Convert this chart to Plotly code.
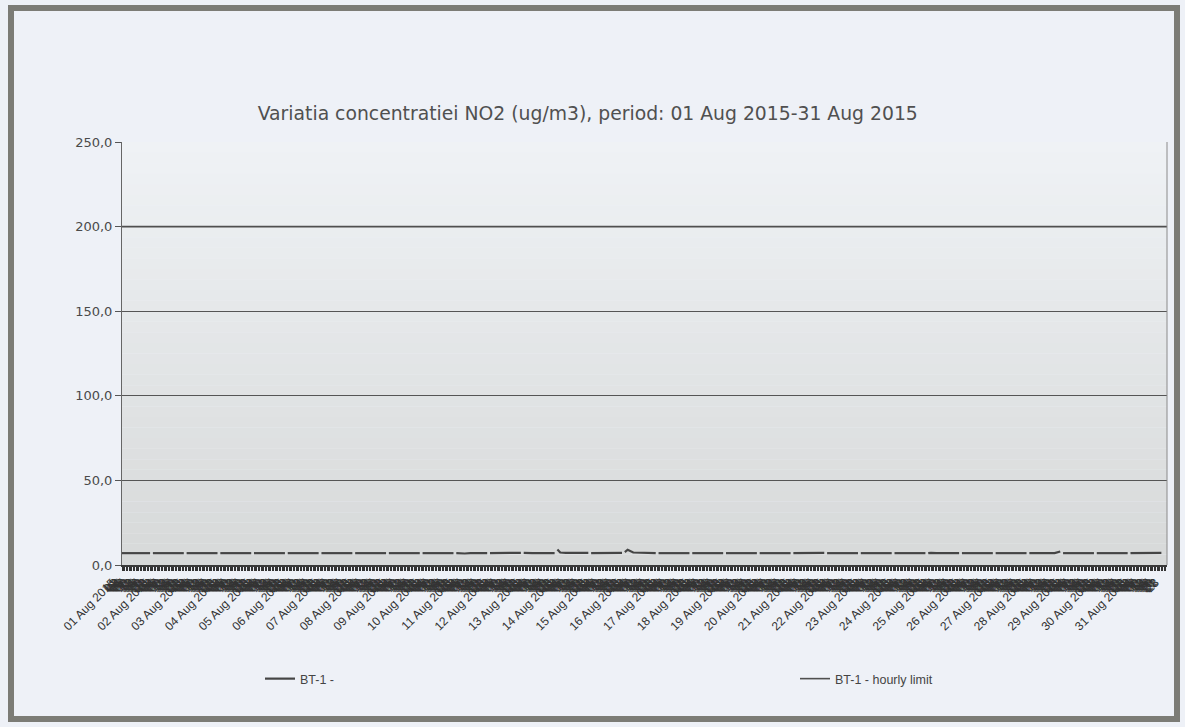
import datetime as dt
import plotly.graph_objects as go

# ---------------- data ----------------
days = list(range(1, 32))                       # August 2015
sample_hours = [0, 4, 8, 12, 16, 20, 22]         # hours
gap_hour = 21                                    # small daily break in the line
no2_by_day = [
    [7.0, 7.0, 7.0, 7.0, 7.0, 7.0, 7.0],   # 01
    [7.0, 7.0, 7.0, 7.0, 7.0, 7.0, 7.0],   # 02
    [7.0, 7.0, 7.0, 7.0, 7.0, 7.0, 7.0],   # 03
    [7.0, 7.0, 7.0, 7.0, 7.0, 7.0, 7.0],   # 04
    [7.0, 7.0, 7.0, 7.0, 7.0, 7.0, 7.0],   # 05
    [7.0, 7.0, 7.0, 7.0, 7.0, 7.0, 7.0],   # 06
    [7.0, 7.0, 7.0, 7.0, 7.0, 7.0, 7.0],   # 07
    [7.0, 7.0, 7.0, 7.0, 7.0, 7.0, 7.0],   # 08
    [7.0, 7.0, 7.0, 7.0, 7.0, 7.0, 7.0],   # 09
    [7.0, 7.0, 7.0, 7.0, 7.0, 7.0, 7.0],   # 10
    [6.8, 6.8, 7.0, 7.0, 7.0, 7.0, 7.0],   # 11
    [7.0, 7.0, 7.0, 7.0, 7.0, 7.2, 7.2],   # 12
    [7.0, 7.0, 7.0, 7.0, 7.0, 7.0, 9.2],   # 13
    [7.4, 7.2, 7.2, 7.2, 7.2, 7.2, 7.0],   # 14
    [7.0, 7.0, 7.0, 7.0, 7.0, 7.2, 7.6],   # 15
    [9.0, 7.4, 7.2, 7.2, 7.2, 7.0, 7.0],   # 16
    [7.0, 7.0, 7.0, 7.0, 7.0, 7.0, 7.0],   # 17
    [7.0, 7.0, 7.0, 7.0, 7.0, 7.0, 7.0],   # 18
    [7.0, 7.0, 7.0, 7.0, 7.0, 7.0, 7.0],   # 19
    [7.0, 7.0, 7.0, 7.0, 7.0, 7.0, 7.0],   # 20
    [7.0, 7.0, 7.0, 7.0, 7.2, 7.2, 7.0],   # 21
    [7.0, 7.0, 7.0, 7.0, 7.0, 7.0, 7.0],   # 22
    [7.0, 7.0, 7.0, 7.0, 7.0, 7.0, 7.0],   # 23
    [7.0, 7.0, 7.0, 7.0, 7.0, 7.0, 7.0],   # 24
    [7.2, 7.0, 7.0, 7.0, 7.0, 7.0, 7.0],   # 25
    [7.0, 7.0, 7.0, 7.0, 7.0, 7.0, 7.0],   # 26
    [7.0, 7.0, 7.0, 7.0, 7.0, 7.0, 7.0],   # 27
    [7.0, 7.0, 7.0, 7.0, 7.0, 8.0, 7.0],   # 28
    [7.0, 7.0, 7.0, 7.0, 7.0, 7.0, 7.0],   # 29
    [7.0, 7.0, 7.0, 7.0, 7.0, 7.0, 7.0],   # 30
    [7.0, 7.0, 7.0, 7.0, 7.0, 7.2, 7.0],   # 31
]
hourly_limit = 200.0
y_ticks = [0, 50, 100, 150, 200, 250]
title_text = "Variatia concentratiei NO2 (ug/m3), period: 01 Aug 2015-31 Aug 2015"
series_names = ["BT-1 - ", "BT-1 - hourly limit"]

# ---------------- build series ----------------
start = dt.datetime(2015, 8, 1)
end = dt.datetime(2015, 9, 1)
xs, ys = [], []
for d, vals in zip(days, no2_by_day):
    base = dt.datetime(2015, 8, d)
    for h, v in zip(sample_hours, vals):
        if h > gap_hour and (not xs or xs[-1] is not None):
            xs.append(base + dt.timedelta(hours=gap_hour))
            ys.append(None)
        xs.append(base + dt.timedelta(hours=h))
        ys.append(v)

tick_vals, tick_text = [], []
for d in days:
    for h in range(24):
        tick_vals.append(dt.datetime(2015, 8, d, h))
        tick_text.append(f"{d:02d} Aug 2015" if h == 0 else f"{h:02d}")

# ---------------- layout geometry (px) ----------------
W, H = 1185, 727
L, R, T, B = 122, 18, 142, 162
pw, ph = W - L - R, H - T - B

def px_x(p):
    return (p - L) / pw

def px_y(p):
    return (H - B - p) / ph

fig = go.Figure()

fig.add_trace(go.Scatter(
    x=xs, y=ys, mode="lines", name=series_names[0], legend="legend",
    line=dict(color="#454545", width=2.2), connectgaps=False,
))
fig.add_trace(go.Scatter(
    x=[start, end], y=[hourly_limit, hourly_limit], mode="lines", legend="legend2",
    name=series_names[1], line=dict(color="#4f4f4f", width=1.6),
))

shapes = []
# plot-area gradient (light top -> grey bottom)
n = 40
c_top = (0xEF, 0xF2, 0xF5)
c_bot = (0xD7, 0xD9, 0xD9)
for i in range(n):
    t = i / (n - 1)
    c = tuple(round(c_top[k] + (c_bot[k] - c_top[k]) * t) for k in range(3))
    shapes.append(dict(type="rect", xref="paper", yref="paper",
                       x0=0, x1=1, y0=1 - (i + 1) / n, y1=1 - i / n,
                       fillcolor="rgb(%d,%d,%d)" % c, line=dict(width=0),
                       layer="below"))
# right edge of plot area
shapes.append(dict(type="line", xref="paper", yref="paper", x0=1, x1=1, y0=0, y1=1,
                   line=dict(color="#8a8a8a", width=1)))
# outer frame
shapes.append(dict(type="rect", xref="paper", yref="paper",
                   x0=px_x(11), x1=px_x(1177), y0=px_y(719), y1=px_y(8),
                   line=dict(color="#7c7c76", width=6), fillcolor="rgba(0,0,0,0)"))

legend_common = dict(orientation="h", xanchor="left", yanchor="middle",
                     y=px_y(679), bgcolor="rgba(0,0,0,0)",
                     font=dict(family="Liberation Sans", size=12.5, color="#444444"))

fig.update_layout(
    width=W, height=H,
    margin=dict(l=L, r=R, t=T, b=B),
    paper_bgcolor="#eef1f7",
    plot_bgcolor="rgba(0,0,0,0)",
    separators=",.",
    shapes=shapes,
    title=dict(text=title_text, x=0.496, xref="container", xanchor="center",
               y=1 - 113 / H, yanchor="middle",
               font=dict(family="DejaVu Sans", size=18.8, color="#505050")),
    showlegend=True,
    legend=dict(x=px_x(260), **legend_common),
    legend2=dict(x=px_x(795), **legend_common),
    xaxis=dict(
        type="date", range=[start, end],
        tickmode="array", tickvals=tick_vals, ticktext=tick_text,
        tickangle=-45, ticks="outside", ticklen=4, tickwidth=1, tickcolor="#333333",
        tickfont=dict(family="Liberation Sans", size=12, color="#333333"),
        showline=True, linecolor="#3a3a3a", linewidth=2,
        showgrid=False, zeroline=False, ticklabelshift=-10,
    ),
    yaxis=dict(
        range=[0, 250], tickmode="array", tickvals=y_ticks, tickformat=".1f",
        ticks="outside", ticklen=6, tickcolor="#555555",
        tickfont=dict(family="DejaVu Sans", size=13, color="#4a4a4a"),
        showline=True, linecolor="#666666", linewidth=1,
        showgrid=True, gridcolor="#555555", gridwidth=1.3, zeroline=False,
    ),
)

fig.write_html("out.html", config={"displayModeBar": False},
               post_script="document.body.style.margin='0';")
